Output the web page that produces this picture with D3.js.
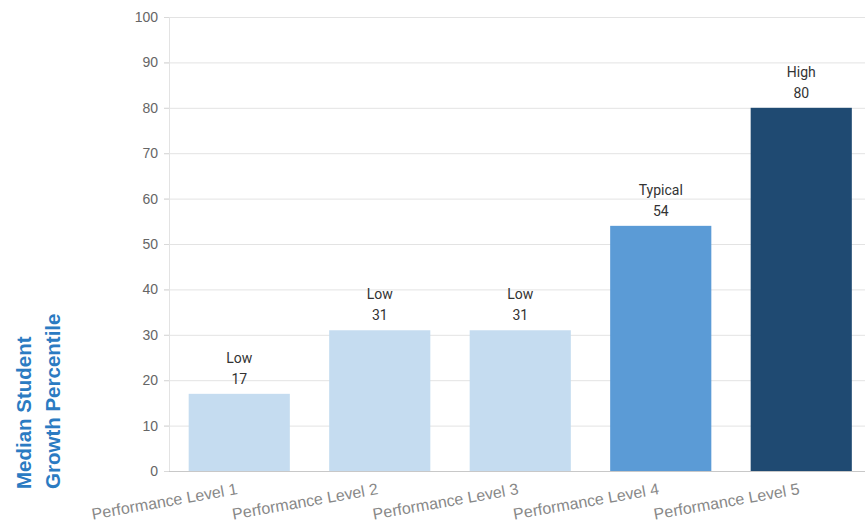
<!DOCTYPE html>
<html><head><meta charset="utf-8">
<script src="https://cdn.jsdelivr.net/npm/d3@7"></script>
<style>body{margin:0;background:#fff;}svg{display:block;}</style>
</head><body>
<svg id="chart" width="865" height="525"></svg>
<script>
const categories = ["Performance Level 1","Performance Level 2","Performance Level 3","Performance Level 4","Performance Level 5"];
const values = [17, 31, 31, 54, 80];
const ratings = ["Low","Low","Low","Typical","High"];
const yTicks = [0,10,20,30,40,50,60,70,80,90,100];
const colorByRating = {Low:"#c5dcf0", Typical:"#5b9bd6", High:"#1f4a72"};

const svg = d3.select("#chart");
const x0 = 169, x1 = 871.5, yTop = 17, yBot = 471;
const x = d3.scaleBand().domain(categories).range([x0, x1]).paddingInner(0.28).paddingOuter(0.14);
const y = d3.scaleLinear().domain([0,100]).range([yBot, yTop]);

// gridlines
svg.append("g").selectAll("line").data(yTicks.filter(d=>d>0)).join("line")
  .attr("x1", x0-5).attr("x2", 865).attr("y1", d=>y(d)+0.5).attr("y2", d=>y(d)+0.5)
  .attr("stroke", "#e3e3e3").attr("stroke-width", 1);
svg.append("line").attr("x1", x0+0.5).attr("x2", x0+0.5).attr("y1", yTop).attr("y2", yBot)
  .attr("stroke", "#e3e3e3");

// y axis labels
const yAxis = svg.append("g").attr("transform", `translate(${x0},0)`)
  .call(d3.axisLeft(y).tickValues(yTicks).tickSize(5).tickPadding(6));
yAxis.select(".domain").remove();
yAxis.selectAll(".tick line").attr("stroke", "#d9d9d9");
yAxis.selectAll(".tick text").attr("fill", "#666").style("font-family", "Liberation Sans, Arial, sans-serif").style("font-size", "14px");

// bars
svg.append("g").selectAll("rect").data(categories).join("rect")
  .attr("x", d=>x(d)).attr("width", x.bandwidth())
  .attr("y", (d,i)=>y(values[i])).attr("height", (d,i)=>y(0)-y(values[i]))
  .attr("fill", (d,i)=>colorByRating[ratings[i]]);

// baseline
svg.append("line").attr("x1", x0).attr("x2", 865).attr("y1", yBot+0.5).attr("y2", yBot+0.5)
  .attr("stroke", "#c8c8c8");

// bar labels
const lab = svg.append("g").style("font-family", "Roboto, sans-serif").style("font-size", "14px").attr("fill", "#333").attr("text-anchor", "middle");
categories.forEach((c,i)=>{
  const cx = x(c) + x.bandwidth()/2;
  lab.append("text").attr("x", cx).attr("y", y(values[i]) - 31).text(ratings[i]);
  lab.append("text").attr("x", cx).attr("y", y(values[i]) - 10).text(values[i]);
});

// x labels
const xl = svg.append("g").style("font-family", "Liberation Sans, Arial, sans-serif").style("font-size", "16px").attr("fill", "#888");
categories.forEach(c=>{
  const cx = x(c) + x.bandwidth()/2 - 1;
  xl.append("text").attr("text-anchor", "end")
    .attr("transform", `translate(${cx},${yBot+23}) rotate(-10)`).text(c);
});

// y title
const t = svg.append("text").attr("transform", "translate(0,489) rotate(-90)")
  .style("font-family", "Liberation Sans, Arial, sans-serif").style("font-size", "20.5px").style("font-weight", "bold")
  .attr("fill", "#2b7bc2").attr("text-anchor", "start");
t.append("tspan").attr("x", 0).attr("y", 31).text("Median Student");
t.append("tspan").attr("x", 0).attr("y", 60).text("Growth Percentile");
</script>
</body></html>
